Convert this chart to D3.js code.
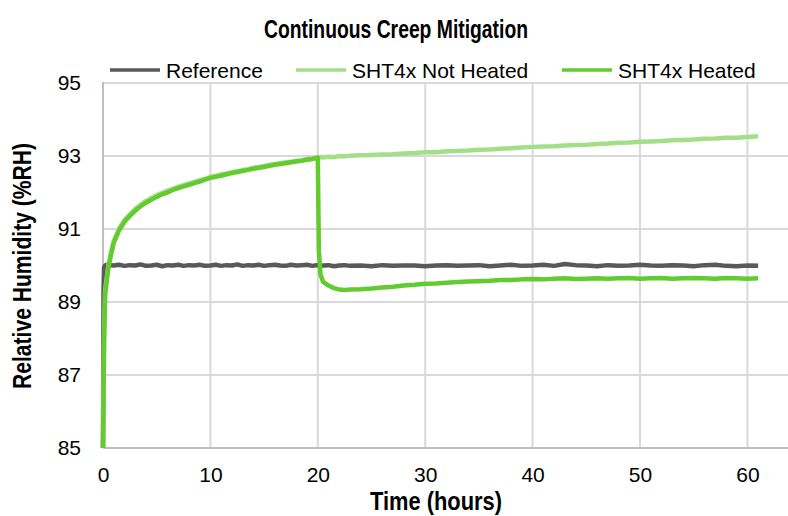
<!DOCTYPE html>
<html>
<head>
<meta charset="utf-8">
<script src="https://cdn.jsdelivr.net/npm/d3@7/dist/d3.min.js"></script>
<style>
  html, body { margin: 0; padding: 0; background: #fff; }
  svg { display: block; }
  text { font-family: "Liberation Sans", Arial, sans-serif; fill: #000; }
</style>
</head>
<body>
<svg id="chart" width="788" height="516"></svg>
<script>
// ---------- data ----------
const chartTitle = "Continuous Creep Mitigation";
const xAxisTitle = "Time (hours)";
const yAxisTitle = "Relative Humidity (%RH)";
const seriesNames = ["Reference", "SHT4x Not Heated", "SHT4x Heated"];
const xTicks = [0, 10, 20, 30, 40, 50, 60];
const yTicks = [85, 87, 89, 91, 93, 95];

const timeHours = [
  0, 0.05, 0.1, 0.2, 0.3, 0.5, 0.75, 1, 1.5, 2, 2.5, 3, 3.5, 4, 4.5, 5, 5.5, 6, 6.5, 7, 7.5, 8, 8.5, 9, 9.5,
  10, 10.5, 11, 11.5, 12, 12.5, 13, 13.5, 14, 14.5, 15, 15.5, 16, 16.5, 17, 17.5, 18, 18.5, 19, 19.5, 19.9,
  20.0, 20.1, 20.25, 20.5, 21, 21.5, 22, 22.5, 23, 24, 25, 26, 27, 28, 29, 30, 31, 32, 33, 34, 35, 36, 37, 38,
  39, 40, 41, 42, 43, 44, 45, 46, 47, 48, 49, 50, 51, 52, 53, 54, 55, 56, 57, 58, 59, 60, 61
];

const referenceRH = [
  85.0, 89.3, 89.95, 90.0, 90.02, 89.98, 90.01, 90.0, 90.02, 89.99, 90.01, 90.0, 90.03, 89.99, 90.0, 90.02, 89.98, 90.01, 90.0, 90.02, 89.99, 90.01, 90.0, 90.02, 89.99,
  90.0, 90.02, 89.99, 90.01, 90.0, 90.03, 89.99, 90.01, 90.0, 90.02, 89.99, 90.01, 90.02, 90.0, 89.99, 90.02, 90.0, 90.01, 90.02, 89.99, 90.01,
  90.0, 90.02, 89.99, 90.0, 90.01, 89.98, 90.0, 90.01, 89.99, 90.0, 89.98, 90.01, 89.99, 90.0, 90.0, 89.98, 90.0, 90.01, 89.99, 90.0, 90.01, 89.98, 90.0, 90.02,
  89.99, 90.0, 90.02, 89.99, 90.04, 90.01, 90.0, 89.98, 90.01, 89.99, 90.0, 90.02, 90.0, 89.99, 90.01, 90.0, 89.98, 90.01, 90.02, 89.99, 89.98, 90.0, 89.99
];

const notHeatedRH = [
  85.0, 86.6, 88.1, 89.3, 89.55, 90.0, 90.38, 90.68, 91.02, 91.25, 91.4, 91.55, 91.66, 91.77, 91.85, 91.93, 91.99, 92.05, 92.1, 92.16, 92.2, 92.25, 92.29, 92.34, 92.37,
  92.43, 92.45, 92.5, 92.52, 92.56, 92.58, 92.62, 92.64, 92.68, 92.7, 92.73, 92.76, 92.78, 92.8, 92.83, 92.84, 92.87, 92.88, 92.92, 92.93, 92.95,
  92.96, 92.95, 92.97, 92.96, 92.98, 92.97, 93.0, 92.99, 93.01, 93.02, 93.03, 93.04, 93.05, 93.07, 93.08, 93.1, 93.1, 93.13, 93.14, 93.15, 93.17, 93.18, 93.2, 93.21,
  93.23, 93.25, 93.26, 93.27, 93.29, 93.3, 93.31, 93.33, 93.34, 93.36, 93.37, 93.39, 93.4, 93.41, 93.43, 93.44, 93.45, 93.47, 93.48, 93.5, 93.5, 93.52, 93.54
];

const heatedRH = [
  85.0, 86.4, 87.9, 89.2, 89.45, 89.93, 90.3, 90.62, 90.96, 91.2, 91.36, 91.5, 91.62, 91.72, 91.8, 91.88, 91.95, 92.0, 92.07, 92.12, 92.17, 92.21, 92.26, 92.3, 92.35,
  92.4, 92.43, 92.46, 92.5, 92.53, 92.56, 92.59, 92.62, 92.65, 92.68, 92.7, 92.73, 92.76, 92.78, 92.8, 92.83, 92.85, 92.87, 92.9, 92.92, 92.95,
  92.96, 90.4, 89.75, 89.55, 89.45, 89.38, 89.34, 89.33, 89.34, 89.35, 89.37, 89.4, 89.42, 89.45, 89.47, 89.5, 89.51, 89.53, 89.55, 89.56, 89.57, 89.58, 89.6, 89.6,
  89.62, 89.63, 89.62, 89.64, 89.65, 89.63, 89.64, 89.65, 89.64, 89.65, 89.66, 89.64, 89.65, 89.66, 89.64, 89.65, 89.66, 89.65, 89.64, 89.66, 89.65, 89.64, 89.65
];

const seriesColors = ["#595959", "#a3df88", "#63cb30"];

// ---------- layout ----------
const svg = d3.select("#chart");
const W = 788, H = 516;
const plot = { left: 103, top: 83, bottom: 448 };

const x = d3.scaleLinear().domain([0, 70]).range([plot.left, plot.left + 7 * 107.4]);
const y = d3.scaleLinear().domain([85, 95]).range([plot.bottom, plot.top]);

// gridlines
const grid = svg.append("g");
grid.selectAll("line.h").data(yTicks.filter(d => d !== 85)).enter().append("line")
  .attr("x1", plot.left).attr("x2", W)
  .attr("y1", d => y(d)).attr("y2", d => y(d))
  .attr("stroke", "#d9d9d9").attr("stroke-width", 2);
grid.selectAll("line.v").data(xTicks.filter(d => d !== 0)).enter().append("line")
  .attr("x1", d => x(d)).attr("x2", d => x(d))
  .attr("y1", plot.top).attr("y2", plot.bottom)
  .attr("stroke", "#d9d9d9").attr("stroke-width", 2);

// axes lines
svg.append("line").attr("x1", plot.left).attr("x2", plot.left).attr("y1", plot.top - 1).attr("y2", plot.bottom)
  .attr("stroke", "#bfbfbf").attr("stroke-width", 2);
svg.append("line").attr("x1", plot.left).attr("x2", W).attr("y1", plot.bottom).attr("y2", plot.bottom)
  .attr("stroke", "#bfbfbf").attr("stroke-width", 2);

// axes via d3 (labels only)
const yAxis = d3.axisLeft(y).tickValues(yTicks).tickSize(0).tickPadding(0).tickFormat(d3.format("d"));
const gy = svg.append("g").attr("transform", `translate(${plot.left - 22},0)`).call(yAxis);
gy.select(".domain").remove();
gy.selectAll("text").attr("font-size", 21).attr("font-family", "Liberation Sans, Arial, sans-serif").attr("fill", "#000");

const xAxis = d3.axisBottom(x).tickValues(xTicks).tickSize(0).tickPadding(0).tickFormat(d3.format("d"));
const gx = svg.append("g").attr("transform", `translate(0,${plot.bottom + 19})`).call(xAxis);
gx.select(".domain").remove();
gx.selectAll("text").attr("font-size", 21).attr("font-family", "Liberation Sans, Arial, sans-serif").attr("fill", "#000");

// series lines
const allSeries = [referenceRH, notHeatedRH, heatedRH];
const line = d3.line().x(d => x(d[0])).y(d => y(d[1])).curve(d3.curveLinear);
[0, 1, 2].forEach(i => {
  const pts = timeHours.map((t, k) => [t, allSeries[i][k]]);
  svg.append("path").datum(pts)
    .attr("d", line)
    .attr("fill", "none")
    .attr("stroke", seriesColors[i])
    .attr("stroke-width", 4.5)
    .attr("stroke-linejoin", "round");
});

// title (condensed bold)
svg.append("text").attr("x", 396).attr("y", 38).attr("text-anchor", "middle")
  .attr("font-size", 26).attr("font-weight", "bold")
  .attr("textLength", 264).attr("lengthAdjust", "spacingAndGlyphs").text(chartTitle);

// legend
const legendItems = [
  { x: 110, tx: 166 },
  { x: 296, tx: 352 },
  { x: 562, tx: 618 }
];
legendItems.forEach((it, i) => {
  svg.append("line").attr("x1", it.x).attr("x2", it.x + 50).attr("y1", 70).attr("y2", 70)
    .attr("stroke", seriesColors[i]).attr("stroke-width", 3.5);
  svg.append("text").attr("x", it.tx).attr("y", 78).attr("font-size", 21).text(seriesNames[i]);
});

// axis titles (condensed bold)
svg.append("text").attr("x", 436).attr("y", 510).attr("text-anchor", "middle")
  .attr("font-size", 25).attr("font-weight", "bold")
  .attr("textLength", 132).attr("lengthAdjust", "spacingAndGlyphs").text(xAxisTitle);
svg.append("text").attr("transform", "translate(31,266) rotate(-90)").attr("text-anchor", "middle")
  .attr("font-size", 25).attr("font-weight", "bold")
  .attr("textLength", 246).attr("lengthAdjust", "spacingAndGlyphs").text(yAxisTitle);
</script>
</body>
</html>
